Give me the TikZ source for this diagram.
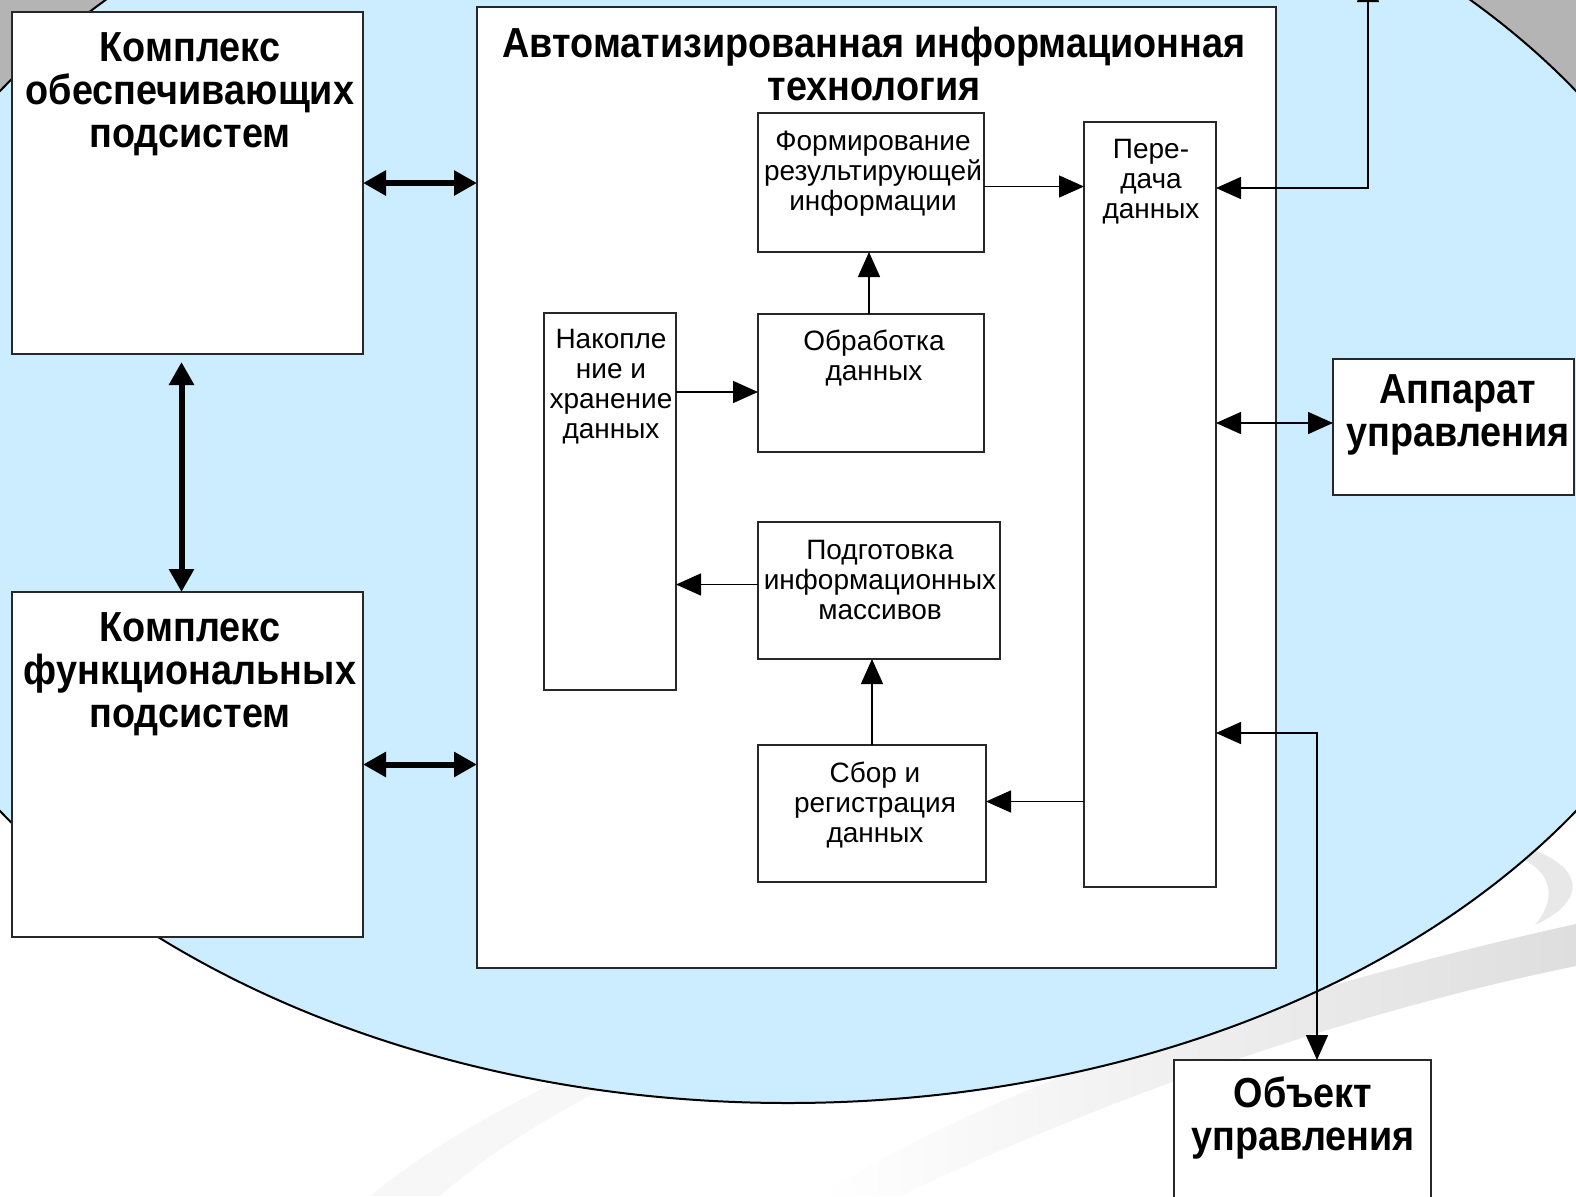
\documentclass[tikz,border=0pt]{standalone}
\usepackage{fontspec}
\setmainfont{Liberation Sans}
\newfontfamily\bfc[FakeStretch=0.9]{Liberation Sans Bold}
\newfontfamily\rgc{Liberation Sans}
\usetikzlibrary{arrows.meta,fit,calc}
\definecolor{skyb}{RGB}{204,236,255}
\definecolor{topgrey}{RGB}{180,180,180}
\definecolor{swoosh}{RGB}{222,222,222}
\definecolor{edge}{RGB}{40,40,40}
\tikzset{
  blk/.style={draw=edge, line width=1pt, fill=white, inner sep=0pt, outer sep=0pt},
  lb/.style={font=\bfc\fontsize{21}{21.3}\selectfont, align=center, inner sep=0pt, anchor=base},
  lr/.style={font=\rgc\fontsize{14}{15}\selectfont, align=center, inner sep=0pt, anchor=base},
  conn/.style={draw=black, line width=0.75pt, -{Triangle[length=12.5pt,width=11pt]}},
  dconn/.style={draw=black, line width=0.75pt, {Triangle[length=12.5pt,width=11pt]}-{Triangle[length=12.5pt,width=11pt]}},
  thk/.style={draw=black, line width=3pt, {Triangle[length=11.5pt,width=12pt]}-{Triangle[length=11.5pt,width=12pt]}}
}
\begin{document}
\begin{tikzpicture}[x=0.5pt,y=-0.5pt]
\useasboundingbox (0,0) rectangle (1576,1196);
\clip (0,0) rectangle (1576,1196);
% background
\fill[white] (0,0) rectangle (1576,1196);
\fill[topgrey] (0,0) rectangle (1576,140);
\fill[black!3] (370,1196) .. controls (440,1140) and (500,1110) .. (560,1080) -- (620,1080) .. controls (540,1120) and (480,1160) .. (440,1196) -- cycle;
\shade[left color=white, right color=swoosh] (1576,924) .. controls (1300,985) and (1000,1080) .. (820,1196) -- (900,1196) .. controls (1100,1100) and (1350,1012) .. (1576,966) -- cycle;
\fill[black!9] (1500,840) .. controls (1590,860) and (1590,900) .. (1535,925) .. controls (1560,895) and (1554,862) .. (1490,848) -- cycle;
\draw[fill=skyb, line width=1pt] (788,451) ellipse [x radius=472.5pt, y radius=326pt];

% boxes
\node[blk, fit={(12,12) (363,354)}] (b1) {};
\node[blk, fit={(12,592) (363,937)}] (b2) {};
\node[blk, fit={(477,7) (1276,968)}] (ait) {};
\node[blk, fit={(758,113) (984,252)}] (form) {};
\node[blk, fit={(758,314) (984,452)}] (obr) {};
\node[blk, fit={(544,313) (676,690)}] (nak) {};
\node[blk, fit={(758,522) (1000,659)}] (podg) {};
\node[blk, fit={(758,745) (986,882)}] (sbor) {};
\node[blk, fit={(1084,122) (1216,887)}] (pered) {};
\node[blk, fit={(1333,359) (1574,495)}] (app) {};
\node[blk, fit={(1174,1060) (1431,1230)}] (obj) {};

% labels (anchored at the baseline of the last line)
\node[lb] (t1) at (190,147) {Комплекс\\обеспечивающих\\подсистем};
\node[lb] (t2) at (190,727) {Комплекс\\функциональных\\подсистем};
\node[lb] (tait) at (874,100) {Автоматизированная информационная\\технология};
\node[lr] (tform) at (873,210) {Формирование\\результирующей\\информации};
\node[lr] (tobr) at (874,380) {Обработка\\данных};
\node[lr] (tnak) at (611,438) {Накопле\\ние и\\хранение\\данных};
\node[lr] (tpodg) at (880,619) {Подготовка\\информационных\\массивов};
\node[lr] (tsbor) at (875,842) {Сбор и\\регистрация\\данных};
\node[lr] (tpered) at (1151,218) {Пере-\\дача\\данных};
\node[lb] (tapp) at (1458,446) {Аппарат\\управления};
\node[lb] (tobj) at (1303,1150) {Объект\\управления};

% thick connectors
\draw[thk] (b1.east) -- (b1.east -| ait.west);
\draw[thk] (b2.east) -- (b2.east -| ait.west);
\draw[thk, shorten <=4pt] ([xshift=-3pt]b1.south) -- ([xshift=-3pt]b2.north);

% inner connectors
\draw[conn] ([yshift=-2pt]form.east) -- ([yshift=-2pt]form.east -| pered.west);
\draw[conn] ([xshift=-1pt]obr.north) -- ([xshift=-1pt]form.south);
\draw[conn] ([yshift=-4.5pt]obr.west -| nak.east) -- ([yshift=-4.5pt]obr.west);
\draw[conn] ([yshift=3pt]podg.west) -- ([yshift=3pt]podg.west -| nak.east);
\draw[conn] (sbor.north) -- (sbor.north |- podg.south);
\draw[conn] ([yshift=6pt]sbor.east -| pered.west) -- ([yshift=6pt]sbor.east);

% outer connectors
\coordinate (up) at (1368,-23);
\coordinate (y188) at (0,188);
\draw[dconn] (up) |- (pered.east |- y188);
\draw[dconn] ([yshift=2pt]pered.east |- app.west) -- ([yshift=2pt]app.west);
\coordinate (c733) at (1317,733);
\draw[dconn] (pered.east |- c733) -| (c733 |- obj.north);
\end{tikzpicture}
\end{document}
